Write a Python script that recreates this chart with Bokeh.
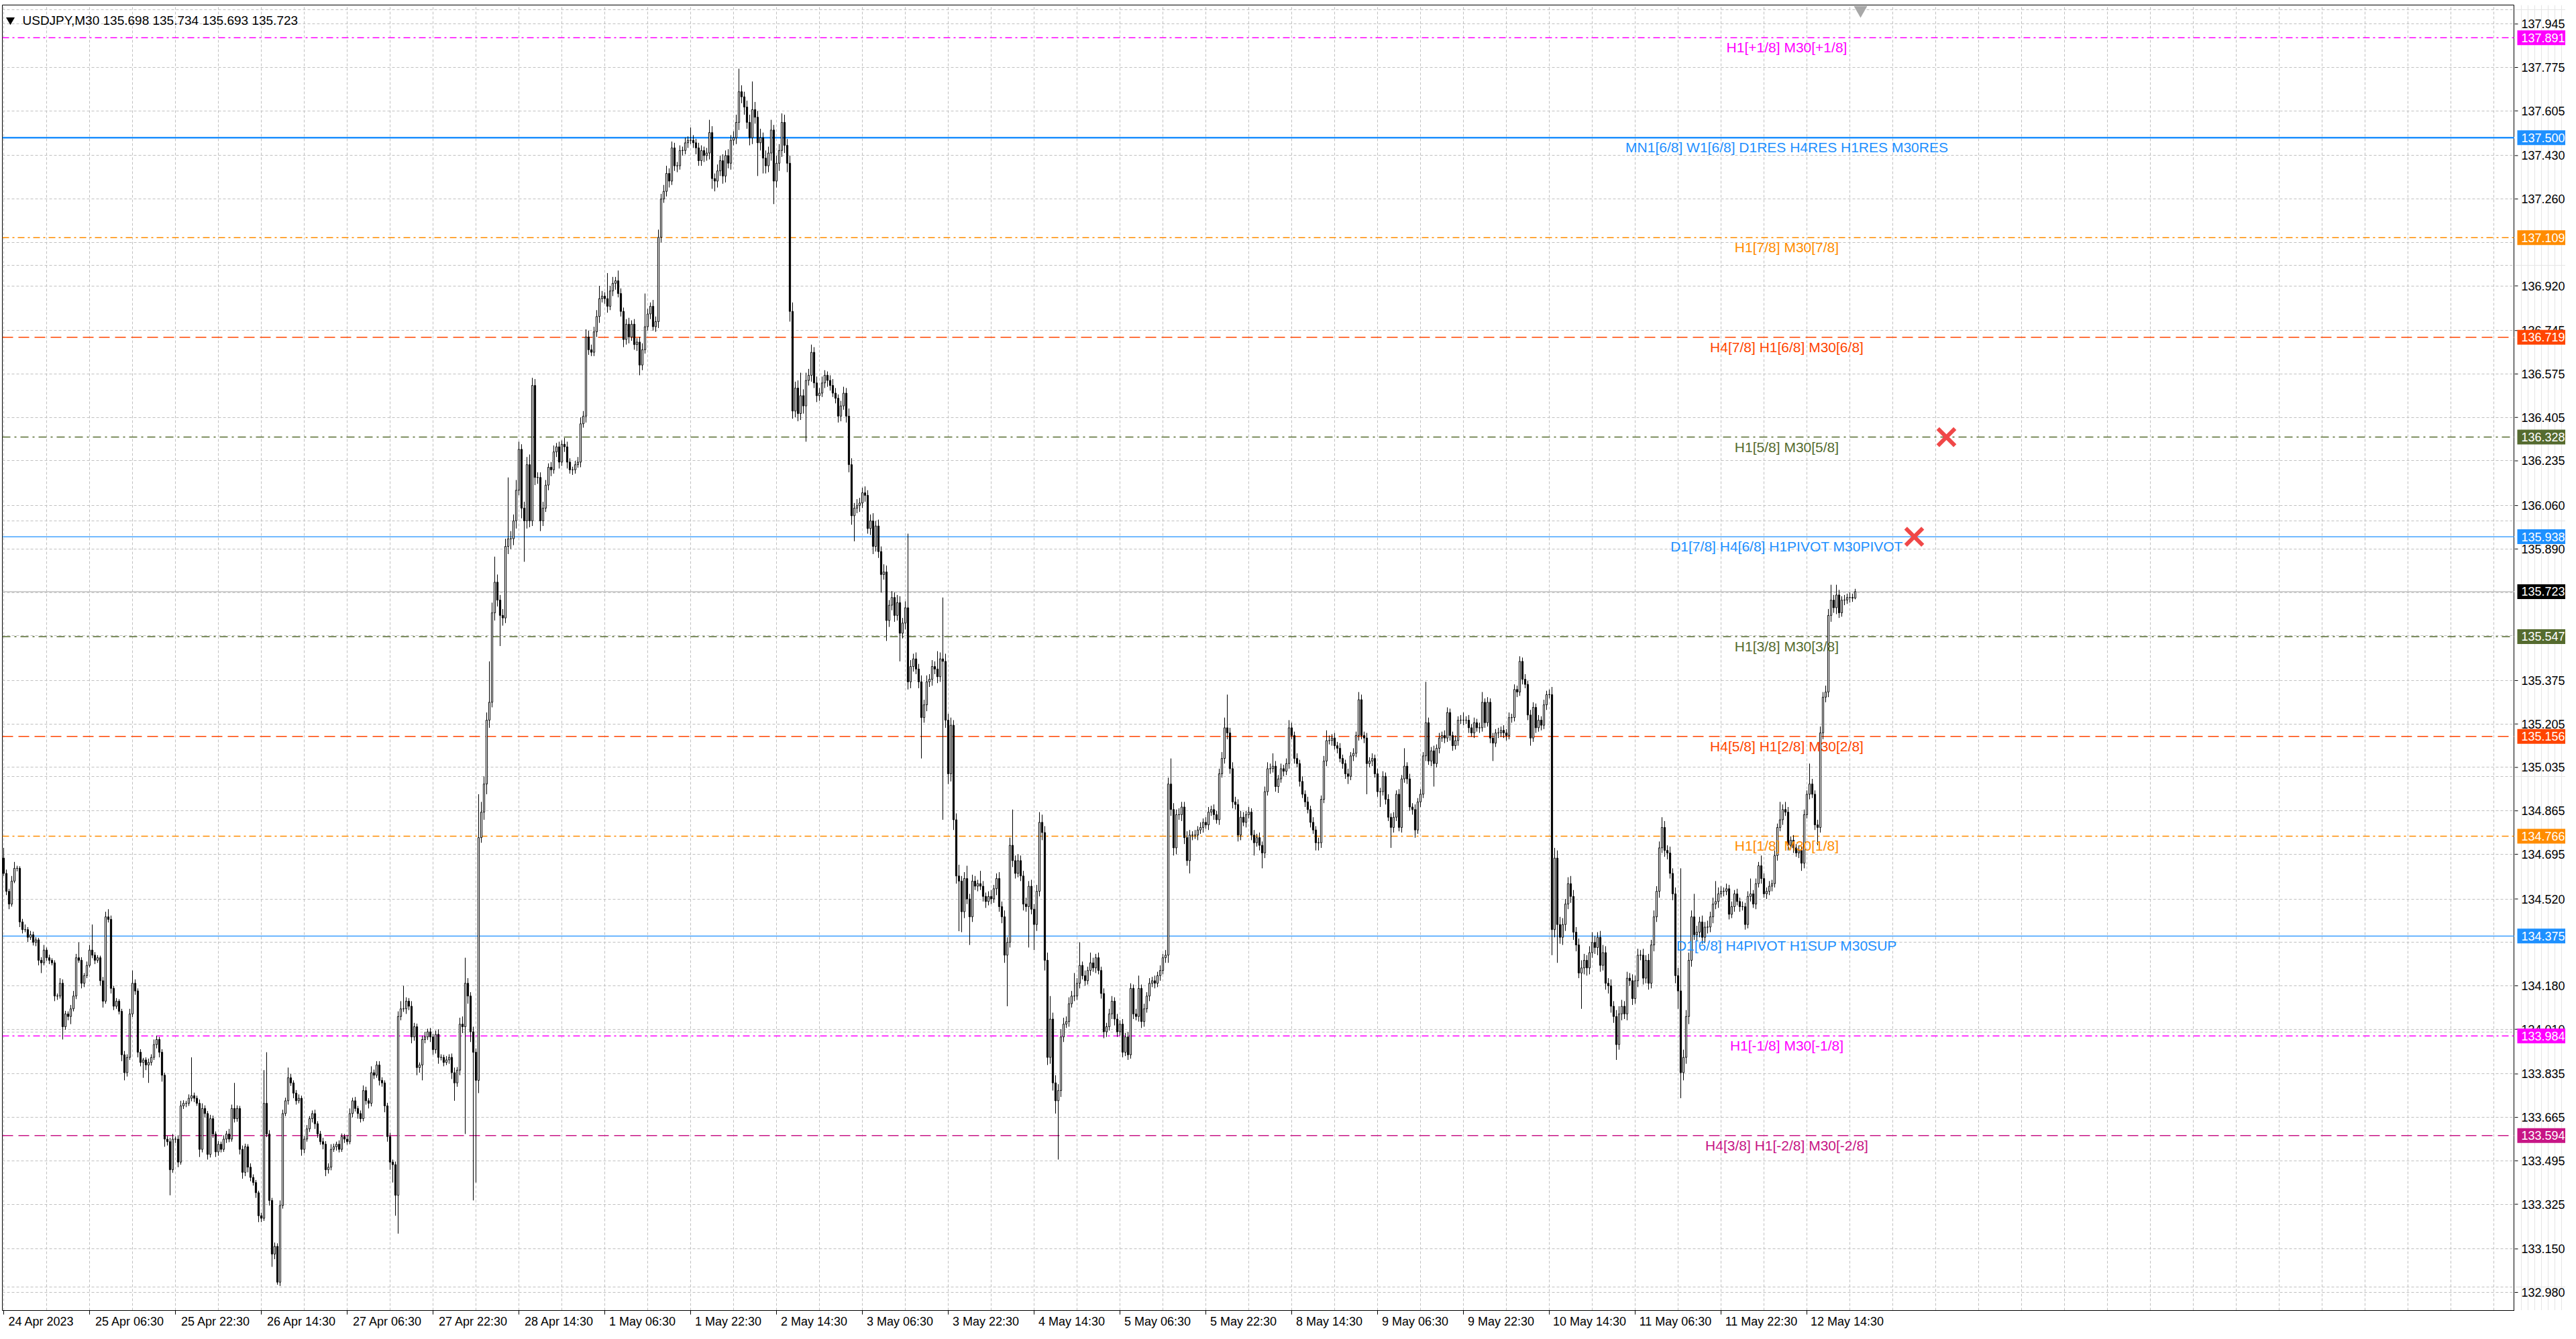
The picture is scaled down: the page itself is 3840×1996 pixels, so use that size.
from bokeh.plotting import figure
from bokeh.layouts import row
from bokeh.models import ColumnDataSource, FixedTicker, Grid, Range1d, Span
from bokeh.core.properties import value
from bokeh.embed import file_html
from bokeh.resources import INLINE

FONT = "Liberation Sans"

symbol = "USDJPY,M30"
first_open = 134.68

# M30 closes, one per bar, 24 Apr 14:30 .. 12 May 19:00
close = [
    134.62, 134.55, 134.50, 134.59, 134.64, 134.64, 134.43, 134.40, 134.40, 134.37, 134.38, 134.35, 134.36, 134.28, 134.27, 134.32, 134.29, 134.28, 134.27, 134.14,
    134.14, 134.19, 134.02, 134.07, 134.06, 134.09, 134.14, 134.29, 134.28, 134.19, 134.22, 134.26, 134.32, 134.30, 134.28, 134.29, 134.20, 134.12, 134.45, 134.44,
    134.17, 134.10, 134.12, 134.08, 133.91, 133.84, 133.90, 134.07, 134.19, 134.16, 133.92, 133.88, 133.89, 133.87, 133.88, 133.90, 133.95, 133.97, 133.92, 133.83,
    133.58, 133.57, 133.46, 133.58, 133.58, 133.49, 133.71, 133.72, 133.72, 133.74, 133.75, 133.74, 133.72, 133.54, 133.70, 133.68, 133.52, 133.66, 133.60, 133.53,
    133.56, 133.54, 133.58, 133.60, 133.58, 133.70, 133.66, 133.70, 133.54, 133.45, 133.55, 133.47, 133.43, 133.41, 133.37, 133.28, 133.27, 133.72, 133.60, 133.34,
    133.13, 133.16, 133.02, 133.32, 133.68, 133.73, 133.82, 133.80, 133.76, 133.73, 133.74, 133.54, 133.58, 133.62, 133.66, 133.68, 133.64, 133.60, 133.57, 133.56,
    133.46, 133.47, 133.54, 133.55, 133.56, 133.54, 133.59, 133.58, 133.57, 133.68, 133.73, 133.70, 133.68, 133.66, 133.77, 133.73, 133.72, 133.84, 133.83, 133.87,
    133.81, 133.80, 133.71, 133.59, 133.49, 133.48, 133.36, 134.06, 134.09, 134.09, 134.12, 134.10, 133.98, 134.02, 133.86, 133.87, 133.97, 133.98, 134.00, 133.98,
    133.93, 133.99, 133.90, 133.90, 133.88, 133.89, 133.90, 133.84, 133.80, 133.85, 134.03, 134.02, 134.19, 134.14, 134.00, 133.92, 133.81, 134.76, 134.86, 134.97,
    135.22, 135.29, 135.64, 135.76, 135.69, 135.63, 135.62, 135.90, 135.93, 135.93, 136.00, 136.12, 136.28, 136.05, 136.00, 136.22, 136.00, 136.53, 136.17, 136.17,
    136.00, 136.05, 136.14, 136.21, 136.20, 136.27, 136.29, 136.23, 136.30, 136.29, 136.23, 136.20, 136.20, 136.22, 136.23, 136.38, 136.41, 136.72, 136.67, 136.66,
    136.74, 136.80, 136.87, 136.88, 136.87, 136.84, 136.90, 136.93, 136.94, 136.89, 136.82, 136.71, 136.77, 136.72, 136.77, 136.69, 136.70, 136.61, 136.67, 136.76,
    136.81, 136.84, 136.76, 136.78, 137.11, 137.26, 137.29, 137.36, 137.33, 137.46, 137.39, 137.39, 137.45, 137.45, 137.48, 137.49, 137.49, 137.48, 137.46, 137.41,
    137.45, 137.43, 137.44, 137.52, 137.34, 137.33, 137.37, 137.41, 137.35, 137.43, 137.40, 137.49, 137.50, 137.56, 137.68, 137.66, 137.62, 137.56, 137.50, 137.61,
    137.58, 137.48, 137.50, 137.42, 137.39, 137.44, 137.53, 137.33, 137.40, 137.45, 137.56, 137.47, 137.40, 136.82, 136.43, 136.52, 136.42, 136.49, 136.45, 136.55,
    136.57, 136.66, 136.54, 136.49, 136.50, 136.54, 136.57, 136.55, 136.53, 136.50, 136.48, 136.41, 136.45, 136.50, 136.41, 136.22, 136.02, 136.05, 136.06, 136.07,
    136.11, 136.10, 135.97, 136.00, 135.90, 135.98, 135.88, 135.79, 135.80, 135.61, 135.67, 135.70, 135.63, 135.68, 135.56, 135.60, 135.66, 135.37, 135.43, 135.46,
    135.42, 135.37, 135.23, 135.28, 135.37, 135.38, 135.43, 135.42, 135.39, 135.46, 135.45, 135.22, 135.01, 135.20, 134.83, 134.61, 134.59, 134.47, 134.60, 134.52,
    134.45, 134.59, 134.57, 134.58, 134.57, 134.53, 134.51, 134.53, 134.52, 134.56, 134.60, 134.49, 134.45, 134.30, 134.35, 134.73, 134.67, 134.62, 134.67, 134.61,
    134.50, 134.49, 134.57, 134.48, 134.42, 134.55, 134.82, 134.78, 134.28, 133.90, 134.05, 133.80, 133.73, 133.77, 133.98, 134.03, 134.04, 134.11, 134.14, 134.14,
    134.19, 134.26, 134.22, 134.20, 134.24, 134.27, 134.25, 134.29, 134.24, 134.15, 134.00, 134.02, 134.07, 134.12, 134.05, 134.00, 134.03, 133.92, 133.98, 133.91,
    134.17, 134.07, 134.06, 134.17, 134.04, 134.09, 134.14, 134.19, 134.20, 134.19, 134.22, 134.24, 134.29, 134.30, 134.97, 134.87, 134.72, 134.85, 134.85, 134.88,
    134.76, 134.67, 134.77, 134.77, 134.77, 134.79, 134.80, 134.82, 134.81, 134.86, 134.87, 134.85, 134.83, 135.01, 135.07, 135.19, 135.17, 135.03, 134.90, 134.89,
    134.77, 134.84, 134.82, 134.85, 134.86, 134.77, 134.74, 134.76, 134.73, 134.70, 134.94, 135.03, 135.03, 135.04, 134.96, 134.99, 135.03, 135.02, 135.05, 135.19,
    135.16, 135.07, 135.05, 134.98, 134.93, 134.90, 134.87, 134.82, 134.79, 134.74, 134.74, 134.91, 135.06, 135.14, 135.14, 135.15, 135.12, 135.11, 135.07, 135.05,
    135.01, 135.00, 135.08, 135.09, 135.16, 135.30, 135.16, 135.15, 135.05, 135.06, 135.07, 135.01, 134.94, 134.94, 135.00, 134.91, 134.84, 134.80, 134.84, 134.93,
    134.80, 134.99, 135.04, 134.99, 134.88, 134.87, 134.79, 134.90, 134.93, 135.08, 135.21, 135.06, 135.10, 135.05, 135.11, 135.15, 135.16, 135.15, 135.25, 135.16,
    135.12, 135.14, 135.22, 135.22, 135.22, 135.22, 135.19, 135.17, 135.21, 135.19, 135.19, 135.29, 135.21, 135.29, 135.15, 135.13, 135.17, 135.17, 135.18, 135.17,
    135.16, 135.23, 135.23, 135.34, 135.33, 135.45, 135.38, 135.36, 135.24, 135.15, 135.27, 135.19, 135.22, 135.20, 135.28, 135.32, 135.32, 134.40, 134.68, 134.42,
    134.37, 134.42, 134.50, 134.58, 134.53, 134.39, 134.34, 134.23, 134.25, 134.28, 134.25, 134.31, 134.35, 134.33, 134.37, 134.26, 134.31, 134.19, 134.18, 134.10,
    134.06, 133.95, 134.07, 134.10, 134.07, 134.21, 134.20, 134.13, 134.20, 134.30, 134.30, 134.21, 134.28, 134.19, 134.34, 134.45, 134.55, 134.72, 134.80, 134.71,
    134.70, 134.62, 134.54, 134.22, 134.16, 133.84, 133.90, 134.06, 134.28, 134.45, 134.38, 134.39, 134.43, 134.37, 134.41, 134.41, 134.45, 134.50, 134.51, 134.54,
    134.55, 134.55, 134.56, 134.46, 134.49, 134.54, 134.51, 134.49, 134.49, 134.42, 134.53, 134.54, 134.50, 134.58, 134.65, 134.60, 134.54, 134.55, 134.57, 134.58,
    134.69, 134.80, 134.83, 134.87, 134.86, 134.73, 134.75, 134.72, 134.70, 134.71, 134.66, 134.85, 134.93, 134.97, 134.93, 134.81, 134.80, 135.17, 135.31, 135.33,
    135.63, 135.69, 135.66, 135.71, 135.64, 135.69, 135.69, 135.70, 135.70, 135.698, 135.723,
]

# shadow above / below the body, in points (0.001)
wick_up = [
    40, 15, 10, 20, 25, 10, 8, 12, 20, 10, 15, 12, 10, 8, 12, 20, 10, 12, 8, 10,
    10, 20, 15, 12, 10, 15, 20, 15, 60, 12, 10, 15, 20, 100, 12, 10, 8, 15, 20, 30,
    15, 10, 12, 8, 10, 15, 12, 20, 50, 15, 10, 12, 8, 10, 15, 12, 20, 15, 10, 12,
    10, 12, 15, 20, 10, 15, 20, 12, 10, 15, 150, 12, 10, 15, 20, 12, 10, 15, 12, 10,
    12, 10, 15, 12, 20, 15, 100, 12, 10, 15, 12, 10, 15, 12, 10, 8, 12, 130, 200, 15,
    10, 15, 12, 20, 15, 12, 40, 15, 10, 12, 15, 10, 12, 15, 10, 12, 15, 10, 12, 15,
    12, 15, 20, 12, 10, 15, 12, 10, 15, 20, 12, 15, 10, 12, 20, 15, 10, 25, 12, 15,
    15, 12, 10, 12, 15, 10, 12, 20, 30, 90, 15, 12, 20, 15, 12, 10, 15, 20, 12, 15,
    12, 15, 20, 12, 10, 15, 12, 15, 20, 12, 25, 30, 100, 20, 15, 20, 15, 170, 40, 30,
    30, 160, 40, 100, 30, 20, 25, 30, 240, 30, 25, 40, 30, 20, 25, 30, 40, 30, 25, 20,
    20, 25, 20, 15, 20, 25, 15, 20, 15, 25, 20, 15, 12, 15, 20, 25, 20, 30, 25, 20,
    20, 25, 50, 20, 15, 100, 20, 25, 15, 40, 20, 15, 20, 25, 15, 20, 15, 20, 25, 130,
    20, 15, 25, 20, 30, 20, 25, 30, 20, 25, 20, 15, 20, 15, 20, 15, 50, 20, 15, 20,
    20, 15, 20, 50, 25, 20, 25, 20, 25, 20, 25, 20, 25, 30, 90, 25, 20, 25, 30, 110,
    30, 25, 35, 20, 30, 25, 40, 20, 30, 25, 35, 30, 25, 30, 35, 25, 30, 90, 25, 30,
    25, 30, 20, 25, 20, 25, 20, 15, 20, 25, 20, 15, 20, 25, 20, 30, 25, 20, 25, 20,
    20, 25, 20, 25, 30, 20, 25, 20, 30, 25, 20, 25, 20, 30, 25, 20, 25, 290, 25, 20,
    25, 20, 25, 20, 25, 20, 25, 20, 70, 25, 240, 30, 25, 30, 20, 25, 44, 20, 25, 50,
    20, 25, 20, 15, 50, 20, 15, 20, 25, 15, 20, 25, 20, 25, 20, 30, 140, 20, 25, 20,
    20, 25, 20, 25, 20, 25, 40, 30, 25, 30, 90, 25, 30, 25, 30, 25, 20, 25, 20, 90,
    20, 90, 15, 20, 15, 40, 20, 15, 20, 15, 20, 15, 20, 20, 15, 20, 15, 20, 15, 20,
    20, 15, 20, 50, 15, 20, 15, 20, 15, 20, 15, 20, 15, 20, 25, 100, 25, 20, 25, 20,
    20, 25, 20, 15, 20, 15, 20, 15, 20, 20, 15, 20, 15, 20, 25, 40, 130, 20, 25, 20,
    20, 25, 20, 15, 20, 15, 20, 15, 20, 15, 20, 25, 20, 50, 20, 15, 20, 15, 20, 30,
    20, 15, 20, 15, 20, 15, 20, 15, 20, 15, 20, 15, 20, 40, 20, 15, 20, 15, 20, 15,
    15, 20, 15, 20, 15, 30, 20, 15, 20, 15, 20, 15, 20, 15, 20, 15, 20, 15, 20, 15,
    20, 15, 70, 15, 20, 15, 20, 15, 20, 15, 160, 20, 15, 20, 15, 20, 15, 20, 20, 15,
    15, 20, 15, 20, 30, 15, 20, 15, 20, 15, 20, 40, 15, 20, 15, 20, 15, 20, 15, 20,
    15, 20, 15, 20, 15, 20, 15, 20, 15, 20, 20, 15, 20, 15, 20, 15, 20, 30, 40, 30,
    30, 25, 20, 25, 30, 25, 20, 25, 30, 25, 20, 25, 40, 25, 20, 25, 30, 25, 20, 25,
    20, 25, 30, 25, 20, 25, 20, 25, 20, 25, 20, 25, 20, 25, 20, 25, 20, 25, 40, 25,
    20, 25, 20, 25, 30, 480, 30, 25, 30, 25, 90, 25, 20, 25, 20, 25, 20, 25, 80, 25,
    20, 15, 20, 15, 20, 15, 20, 15, 20, 15, 20, 60, 15, 20, 15, 40, 20, 15, 20, 15,
    20, 15, 70, 20, 30, 20, 15, 20, 15, 20, 15, 20, 15, 80, 20, 15, 20, 25, 20, 25,
    25, 60, 20, 40, 20, 15, 20, 15, 20, 15, 11,
]
wick_dn = [
    10, 15, 20, 10, 8, 12, 20, 15, 10, 18, 10, 12, 15, 20, 40, 10, 12, 15, 10, 20,
    15, 10, 50, 12, 15, 30, 10, 12, 10, 20, 15, 10, 8, 12, 15, 10, 20, 25, 10, 12,
    20, 15, 10, 12, 25, 30, 15, 10, 12, 15, 20, 15, 60, 20, 70, 12, 10, 15, 20, 25,
    30, 15, 100, 12, 15, 20, 10, 12, 15, 10, 12, 15, 10, 30, 12, 15, 20, 12, 15, 20,
    15, 12, 10, 15, 12, 10, 15, 12, 20, 25, 15, 20, 15, 12, 20, 25, 15, 10, 12, 20,
    50, 20, 10, 15, 12, 10, 15, 12, 20, 15, 10, 25, 15, 10, 12, 15, 20, 15, 12, 20,
    25, 15, 12, 10, 15, 12, 10, 15, 12, 10, 15, 12, 20, 15, 10, 15, 20, 12, 15, 10,
    20, 15, 25, 20, 30, 70, 80, 150, 15, 12, 20, 15, 25, 15, 30, 20, 60, 15, 12, 20,
    20, 15, 25, 12, 15, 10, 15, 25, 70, 15, 20, 25, 420, 30, 40, 580, 400, 50, 20, 30,
    40, 30, 20, 30, 25, 120, 30, 20, 30, 40, 25, 30, 20, 40, 160, 30, 25, 20, 30, 25,
    40, 20, 15, 20, 25, 15, 20, 25, 15, 20, 25, 15, 20, 15, 12, 20, 15, 25, 20, 15,
    15, 20, 25, 15, 20, 25, 15, 20, 25, 15, 20, 30, 20, 25, 15, 20, 25, 40, 20, 15,
    15, 20, 15, 20, 25, 20, 15, 20, 25, 15, 20, 25, 15, 20, 15, 20, 15, 20, 25, 20,
    20, 25, 20, 25, 40, 40, 25, 20, 30, 25, 20, 25, 20, 25, 30, 25, 30, 25, 30, 25,
    25, 130, 30, 60, 30, 25, 30, 90, 25, 30, 25, 30, 35, 40, 30, 25, 30, 25, 30, 140,
    20, 25, 20, 25, 20, 15, 20, 25, 20, 15, 20, 25, 20, 15, 25, 30, 35, 100, 20, 25,
    20, 25, 20, 25, 30, 20, 25, 70, 20, 80, 25, 20, 25, 20, 110, 20, 25, 30, 25, 20,
    20, 25, 160, 20, 25, 20, 25, 20, 25, 20, 620, 30, 40, 30, 40, 30, 196, 80, 25, 20,
    110, 20, 15, 20, 15, 20, 25, 15, 20, 15, 25, 20, 25, 30, 200, 20, 25, 20, 15, 20,
    25, 20, 160, 20, 100, 25, 20, 30, 40, 30, 25, 30, 50, 230, 25, 20, 15, 20, 15, 20,
    15, 20, 15, 20, 15, 20, 15, 20, 15, 20, 25, 20, 15, 20, 25, 20, 15, 20, 15, 20,
    15, 20, 15, 20, 25, 20, 15, 20, 15, 20, 15, 20, 15, 20, 30, 25, 30, 25, 20, 25,
    25, 20, 50, 20, 15, 20, 15, 20, 15, 20, 15, 20, 15, 20, 15, 20, 25, 20, 25, 20,
    25, 20, 15, 20, 15, 20, 50, 15, 20, 60, 20, 15, 20, 15, 20, 25, 15, 20, 15, 20,
    15, 20, 15, 20, 15, 20, 15, 20, 15, 30, 30, 20, 15, 20, 15, 20, 15, 20, 15, 20,
    20, 30, 15, 20, 15, 20, 15, 20, 120, 15, 20, 15, 20, 60, 15, 20, 15, 80, 20, 15,
    15, 20, 15, 20, 15, 20, 30, 15, 20, 15, 20, 15, 20, 90, 15, 20, 15, 20, 15, 20,
    20, 15, 20, 15, 20, 15, 20, 15, 20, 15, 20, 15, 20, 15, 20, 70, 15, 20, 15, 20,
    20, 15, 20, 15, 20, 15, 20, 15, 20, 30, 15, 20, 15, 20, 15, 20, 15, 100, 30, 150,
    25, 30, 25, 20, 25, 30, 25, 20, 140, 25, 30, 25, 20, 25, 30, 25, 20, 25, 30, 25,
    25, 60, 20, 25, 20, 25, 20, 25, 20, 25, 20, 25, 20, 25, 20, 25, 20, 25, 20, 25,
    25, 20, 25, 30, 70, 100, 30, 25, 30, 25, 20, 25, 20, 25, 20, 25, 20, 25, 20, 25,
    15, 20, 15, 20, 15, 20, 15, 20, 15, 20, 15, 20, 15, 20, 15, 20, 15, 20, 15, 20,
    15, 20, 15, 20, 15, 20, 15, 20, 15, 20, 30, 20, 15, 20, 15, 20, 70, 20, 25, 20,
    20, 25, 20, 25, 20, 15, 20, 15, 20, 15, 5,
]

# time axis: a label every 32 bars
tick_bars = [0, 32, 64, 96, 128, 160, 192, 224, 256, 288, 320, 352, 384, 416, 448,
             480, 512, 544, 576, 608, 640, 672]
tick_text = ["24 Apr 2023", "25 Apr 06:30", "25 Apr 22:30", "26 Apr 14:30", "27 Apr 06:30",
             "27 Apr 22:30", "28 Apr 14:30", "1 May 06:30", "1 May 22:30", "2 May 14:30",
             "3 May 06:30", "3 May 22:30", "4 May 14:30", "5 May 06:30", "5 May 22:30",
             "8 May 14:30", "9 May 06:30", "9 May 22:30", "10 May 14:30", "11 May 06:30",
             "11 May 22:30", "12 May 14:30"]

price_ticks = [137.945, 137.775, 137.605, 137.430, 137.260, 136.920, 136.745, 136.575,
               136.405, 136.235, 136.060, 135.890, 135.375, 135.205, 135.035, 134.865,
               134.695, 134.520, 134.180, 134.010, 133.835, 133.665, 133.495, 133.325,
               133.150, 132.980]
hidden_ticks = [137.090, 135.720, 135.550, 134.350]

# Murrey math levels
levels = [137.891, 137.500, 137.109, 136.719, 136.328, 135.938, 135.547, 135.156,
          134.766, 134.375, 133.984, 133.594]
level_text = ["H1[+1/8] M30[+1/8]", "MN1[6/8] W1[6/8] D1RES H4RES H1RES M30RES",
              "H1[7/8] M30[7/8]", "H4[7/8] H1[6/8] M30[6/8]", "H1[5/8] M30[5/8]",
              "D1[7/8] H4[6/8] H1PIVOT M30PIVOT", "H1[3/8] M30[3/8]",
              "H4[5/8] H1[2/8] M30[2/8]", "H1[1/8] M30[1/8]",
              "D1[6/8] H4PIVOT H1SUP M30SUP", "H1[-1/8] M30[-1/8]",
              "H4[3/8] H1[-2/8] M30[-2/8]"]
level_colors = ["#FF00FF", "#1E90FF", "#FF8C00", "#FF4500", "#556B2F", "#1E90FF",
                "#556B2F", "#FF4500", "#FF8C00", "#1E90FF", "#FF00FF", "#C71585"]
level_dash = ["10 5 3 5", "solid", "10 5 3 5", "16 8", "12 6 3 6", "solid",
              "12 6 3 6", "16 8", "10 5 3 5", "solid", "10 5 3 5", "16 8"]
level_width = [1.5, 2.5, 1.5, 1.5, 1.5, 1.2, 1.5, 1.5, 1.5, 1.2, 1.5, 1.5]

cross_bars = [724, 712]
cross_prices = [136.328, 135.938]
shift_bar = 692

n = len(close)
assert len(wick_up) == n and len(wick_dn) == n, (n, len(wick_up), len(wick_dn))

bars = list(range(n))
opens = [first_open] + close[:-1]
tops = [max(o, c) for o, c in zip(opens, close)]
bots = [min(o, c) for o, c in zip(opens, close)]
highs = [t + u / 1000 for t, u in zip(tops, wick_up)]
lows = [b - d / 1000 for b, d in zip(bots, wick_dn)]
fills = ["white" if c >= o else "black" for o, c in zip(opens, close)]
src = ColumnDataSource(dict(x=bars, top=tops, bottom=bots, high=highs, low=lows, fill=fills))

FRAME_H = 1946
price_range = Range1d(132.9091, 138.0193)

p = figure(frame_width=3745, frame_height=FRAME_H,
           x_range=Range1d(-0.5, 935.75), y_range=price_range,
           output_backend="svg", toolbar_location=None, y_axis_location=None,
           min_border_left=3, min_border_top=7, min_border_right=0, min_border_bottom=25,
           background_fill_color="white", border_fill_color="white")
p.outline_line_color = "black"
p.outline_line_width = 1

p.xgrid.ticker = FixedTicker(ticks=list(range(0, 936, 16)))
p.add_layout(Grid(dimension=1, ticker=FixedTicker(ticks=price_ticks + hidden_ticks)))
p.grid.grid_line_color = "#C0C0C0"
p.grid.grid_line_dash = "4 3"
p.grid.grid_line_width = 1

# time labels sit just right of their tick: labels on the major ticks,
# the short tick marks drawn as minor ticks at the label's bar
label_pos = [b + round(len(t) * 1.2 + 1) for b, t in zip(tick_bars, tick_text)]
xa = p.xaxis[0]
xa.ticker = FixedTicker(ticks=label_pos, minor_ticks=tick_bars)
xa.major_label_overrides = dict(zip(label_pos, tick_text))
xa.major_label_text_font = FONT
xa.major_label_text_font_size = "18px"
xa.major_label_text_color = "black"
xa.major_label_standoff = 0
xa.major_tick_out = 6
xa.major_tick_in = 0
xa.major_tick_line_color = None
xa.minor_tick_out = 6
xa.minor_tick_in = 0
xa.minor_tick_line_color = "black"
xa.axis_line_color = "black"

for lv, col, dash, w in zip(levels, level_colors, level_dash, level_width):
    p.add_layout(Span(location=lv, dimension="width", line_color=col, line_dash=dash,
                      line_width=w, level="underlay"))
p.add_layout(Span(location=close[-1], dimension="width", line_color="#C0C0C0",
                  line_width=1.5, level="underlay"))

p.segment(x0="x", y0="high", x1="x", y1="low", source=src, line_color="black", line_width=1)
p.vbar(x="x", width=0.55, top="top", bottom="bottom", source=src,
       fill_color="fill", line_color="black", line_width=1)

lsrc = ColumnDataSource(dict(x=[664.5] * len(levels), y=levels, text=level_text, color=level_colors))
p.text(x="x", y="y", text="text", source=lsrc, text_color="color", text_align="center",
       text_baseline="top", y_offset=3, text_font=value(FONT), text_font_size="21px")

p.scatter(cross_bars, cross_prices, marker="x", size=36, line_width=6, line_color="#F04848")
p.scatter([shift_bar], [138.0], marker="inverted_triangle", size=20,
          fill_color="#A8A8A8", line_color=None)

title = "%s  %.3f %.3f %.3f %.3f" % (symbol, opens[-1], highs[-1], lows[-1], close[-1])
p.scatter([2.5], [137.961], marker="inverted_triangle", size=13, fill_color="black", line_color=None)
p.text(x=[7], y=[137.959], text=[title], text_align="left", text_baseline="middle",
       text_color="black", text_font=value(FONT), text_font_size="19px")

# price scale strip to the right of the chart, x measured in pixels from the border
side = figure(frame_width=76, frame_height=FRAME_H, x_range=Range1d(0, 76), y_range=price_range,
              output_backend="svg", toolbar_location=None, x_axis_location=None,
              y_axis_location=None, min_border_left=0, min_border_right=0,
              min_border_top=7, min_border_bottom=0,
              background_fill_color="white", border_fill_color="white")
side.outline_line_color = None

side.segment(x0=[0] * len(price_ticks), y0=price_ticks, x1=[5] * len(price_ticks), y1=price_ticks,
             line_color="black", line_width=1)
side.text(x=[10] * len(price_ticks), y=price_ticks, text=["%.3f" % t for t in price_ticks],
          text_align="left", text_baseline="middle", text_color="black",
          text_font=value(FONT), text_font_size="18px")

box_levels = levels + [close[-1]]
box_colors = level_colors + ["black"]
side.rect(x=[40] * len(box_levels), y=box_levels, width=72, height=22, height_units="screen",
          fill_color=box_colors, line_color=None)
side.text(x=[10] * len(box_levels), y=box_levels, text=["%.3f" % v for v in box_levels],
          text_align="left", text_baseline="middle", text_color="white",
          text_font=value(FONT), text_font_size="18px")

layout = row(p, side)
open("out.html", "w").write(file_html(layout, INLINE))
